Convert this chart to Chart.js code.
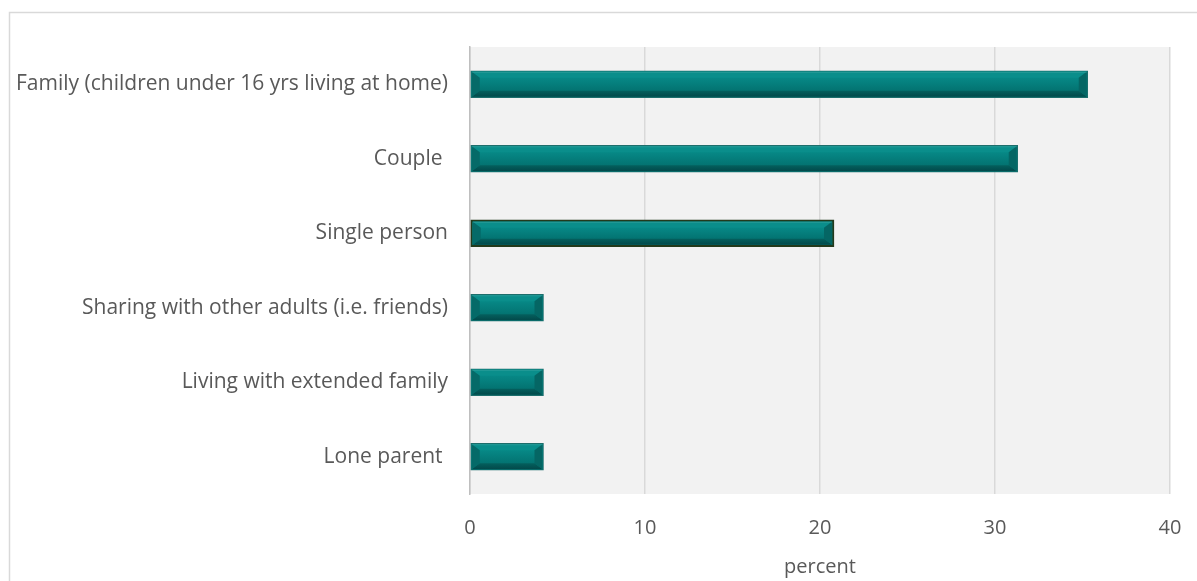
<!DOCTYPE html>
<html><head><meta charset="utf-8">
<script src="https://cdn.jsdelivr.net/npm/chart.js@4.4.1/dist/chart.umd.min.js"></script>
<style>html,body{margin:0;padding:0;background:#fff}#wrap{width:1197px;height:581px;position:relative}</style>
</head><body><div id="wrap"><canvas id="c"></canvas></div>
<script>
const categories = ["Family (children under 16 yrs living at home)", "Couple ", "Single person", "Sharing with other adults (i.e. friends)", "Living with extended family", "Lone parent "];
const values = [35.3, 31.3, 20.8, 4.2, 4.2, 4.2];
const xTicks = [0, 10, 20, 30, 40];
const axisTitle = "percent";

const FONT = "'Open Sans', 'Noto Sans', sans-serif";

const frame = {
  id: 'frame',
  beforeDraw(chart) {
    const {ctx, chartArea: a} = chart;
    ctx.save();
    ctx.strokeStyle = '#d9d9d9';
    ctx.lineWidth = 1.5;
    ctx.strokeRect(9.5, 12.5, 1300, 700);
    ctx.fillStyle = '#f2f2f2';
    ctx.fillRect(a.left, a.top, a.right - a.left, a.bottom - a.top);
    ctx.restore();
  }
};

const bevel = {
  id: 'bevel',
  afterDatasetsDraw(chart) {
    const ctx = chart.ctx;
    const meta = chart.getDatasetMeta(0);
    ctx.save();
    meta.data.forEach((bar, i) => {
      const p = bar.getProps(['x', 'y', 'base', 'height'], true);
      const l = Math.min(p.base, p.x), r = Math.max(p.base, p.x);
      const t = p.y - p.height / 2, b = p.y + p.height / 2;
      const inset = i === 2 ? 2 : 1;
      const L = l + inset, R = r - inset, T = t + inset, B = b - inset;
      const bx = Math.min(8, (R - L) / 3), by = 6;
      const poly = (pts, col) => { ctx.beginPath(); ctx.moveTo(pts[0][0], pts[0][1]); for (let k = 1; k < pts.length; k++) ctx.lineTo(pts[k][0], pts[k][1]); ctx.closePath(); ctx.fillStyle = col; ctx.fill(); };
      const g = ctx.createLinearGradient(0, T + by, 0, B - by);
      g.addColorStop(0, '#078886'); g.addColorStop(1, '#037371');
      ctx.fillStyle = g; ctx.fillRect(L, T, R - L, B - T);
      poly([[L, T], [R, T], [R - bx, T + by], [L + bx, T + by]], '#0a8e8b');
      const gb = ctx.createLinearGradient(0, B - by, 0, B);
      gb.addColorStop(0, '#04605e'); gb.addColorStop(1, '#02494a');
      poly([[L, B], [R, B], [R - bx, B - by], [L + bx, B - by]], gb);
      poly([[L, T], [L + bx, T + by], [L + bx, B - by], [L, B]], '#056a68');
      poly([[R, T], [R - bx, T + by], [R - bx, B - by], [R, B]], '#056664');
      ctx.fillStyle = 'rgba(255,255,255,0.12)';
      ctx.fillRect(L, T, R - L, 1);
    });
    ctx.restore();
  }
};

new Chart(document.getElementById('c'), {
  type: 'bar',
  data: {
    labels: categories,
    datasets: [{
      data: values,
      backgroundColor: '#058280',
      borderColor: values.map((v, i) => i === 2 ? '#233a1c' : '#1d6e6c'),
      borderWidth: values.map((v, i) => i === 2 ? 2 : 1),
      borderSkipped: false,
      barThickness: 27
    }]
  },
  plugins: [frame, bevel],
  options: {
    indexAxis: 'y',
    responsive: true,
    maintainAspectRatio: false,
    animation: false,
    layout: { padding: { top: 47, right: 27, left: 0, bottom: 0 } },
    plugins: { legend: { display: false }, tooltip: { enabled: false } },
    scales: {
      x: {
        min: 0, max: 40,
        afterBuildTicks(scale) { scale.ticks = xTicks.map(v => ({ value: v })); },
        grid: { color: '#d9d9d9', lineWidth: 1.5, drawTicks: false },
        border: { display: false },
        ticks: { color: '#595959', font: { family: FONT, size: 20 }, padding: 22, maxRotation: 0 },
        title: { display: true, text: axisTitle, color: '#595959', font: { family: FONT, size: 20 }, padding: { top: 0, bottom: 2 } },
        afterFit(scale) { scale.height = 87; scale.paddingRight = 0; scale.paddingLeft = 0; }
      },
      y: {
        grid: { display: false, drawTicks: false },
        border: { display: true, color: '#bfbfbf', width: 1.5 },
        ticks: { color: '#595959', font: { family: FONT, size: 21 }, padding: 22 },
        afterFit(scale) { scale.width = 470; scale.paddingTop = 0; scale.paddingBottom = 0; }
      }
    }
  }
});
</script>
</body></html>
